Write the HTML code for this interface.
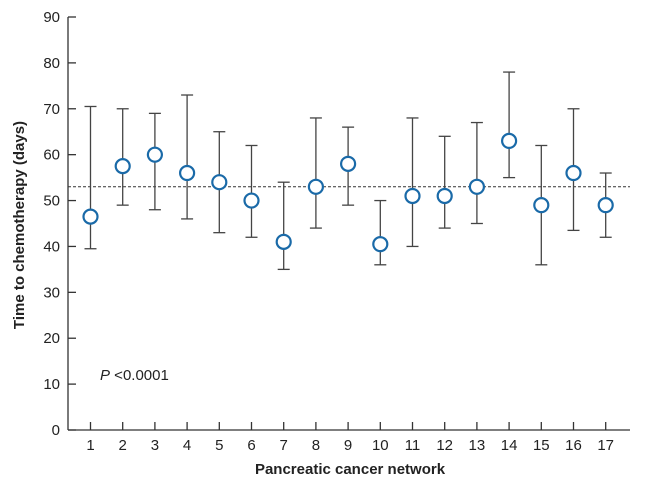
<!DOCTYPE html>
<html><head><meta charset="utf-8"><style>
html,body{margin:0;padding:0;background:#fff;}
svg{display:block;font-family:"Liberation Sans",Arial,sans-serif;}
</style></head><body>
<svg id="chart" width="646" height="486" viewBox="0 0 646 486">
<g id="axes"></g>
<g id="marks"></g>
<text x="100" y="380" font-size="15" fill="#222"><tspan font-style="italic">P</tspan> &lt;0.0001</text>
<text x="350" y="474" font-size="15" font-weight="bold" text-anchor="middle" fill="#222">Pancreatic cancer network</text>
<text transform="translate(24,225) rotate(-90)" font-size="15" font-weight="bold" text-anchor="middle" fill="#222">Time to chemotherapy (days)</text>
</svg>
<script>
const categories = [1,2,3,4,5,6,7,8,9,10,11,12,13,14,15,16,17];
const means = [46.5,57.5,60,56,54,50,41,53,58,40.5,51,51,53,63,49,56,49];
const lows = [39.5,49,48,46,43,42,35,44,49,36,40,44,45,55,36,43.5,42];
const highs = [70.5,70,69,73,65,62,54,68,66,50,68,64,67,78,62,70,56];
const yTicks = [0,10,20,30,40,50,60,70,80,90];
const refLine = 53;

const NS="http://www.w3.org/2000/svg";
const x0=68, yBase=430, yTop=17;
const y = v => yBase - (v/90)*(yBase-yTop);
const x = c => 90.5 + (c-1)*32.2;
function mk(tag, attrs, parent){const e=document.createElementNS(NS,tag);for(const k in attrs)e.setAttribute(k,attrs[k]);parent.appendChild(e);return e;}
const axes=document.getElementById('axes'), marks=document.getElementById('marks');
let e=mk('line',{x1:x0,y1:yTop,x2:x0,y2:yBase,stroke:'#333','stroke-width':1.3},axes);


e=mk('line',{x1:x0,y1:yBase,x2:630,y2:yBase,stroke:'#333','stroke-width':1.3},axes);


yTicks.forEach(t=>{
  const tk=mk('line',{x1:x0,y1:y(t),x2:x0+8,y2:y(t),stroke:'#333','stroke-width':1.3},axes);
  
  
  const lb=mk('text',{x:x0-8,y:y(t)+5,'font-size':15,'text-anchor':'end',fill:'#222'},axes);
  lb.textContent=t;
  
  
});
categories.forEach(c=>{
  const tk=mk('line',{x1:x(c),y1:yBase,x2:x(c),y2:yBase-8,stroke:'#333','stroke-width':1.3},axes);
  
  
  const lb=mk('text',{x:x(c),y:yBase+20,'font-size':15,'text-anchor':'middle',fill:'#222'},axes);
  lb.textContent=c;
  
  
});
e=mk('line',{x1:x0,y1:y(refLine),x2:630,y2:y(refLine),stroke:'#333','stroke-width':1,'stroke-dasharray':'3,2'},marks);


categories.forEach((c,i)=>{
  const g=mk('g',{},marks);
  
  
  const X=x(c);
  mk('line',{x1:X,y1:y(lows[i]),x2:X,y2:y(highs[i]),stroke:'#444','stroke-width':1.3},g);
  mk('line',{x1:X-6,y1:y(lows[i]),x2:X+6,y2:y(lows[i]),stroke:'#444','stroke-width':1.3},g);
  mk('line',{x1:X-6,y1:y(highs[i]),x2:X+6,y2:y(highs[i]),stroke:'#444','stroke-width':1.3},g);
  const p=mk('circle',{cx:X,cy:y(means[i]),r:7,fill:'#fff',stroke:'#1a6aa8','stroke-width':2.2},g);
  
  
});
</script>
</body></html>
